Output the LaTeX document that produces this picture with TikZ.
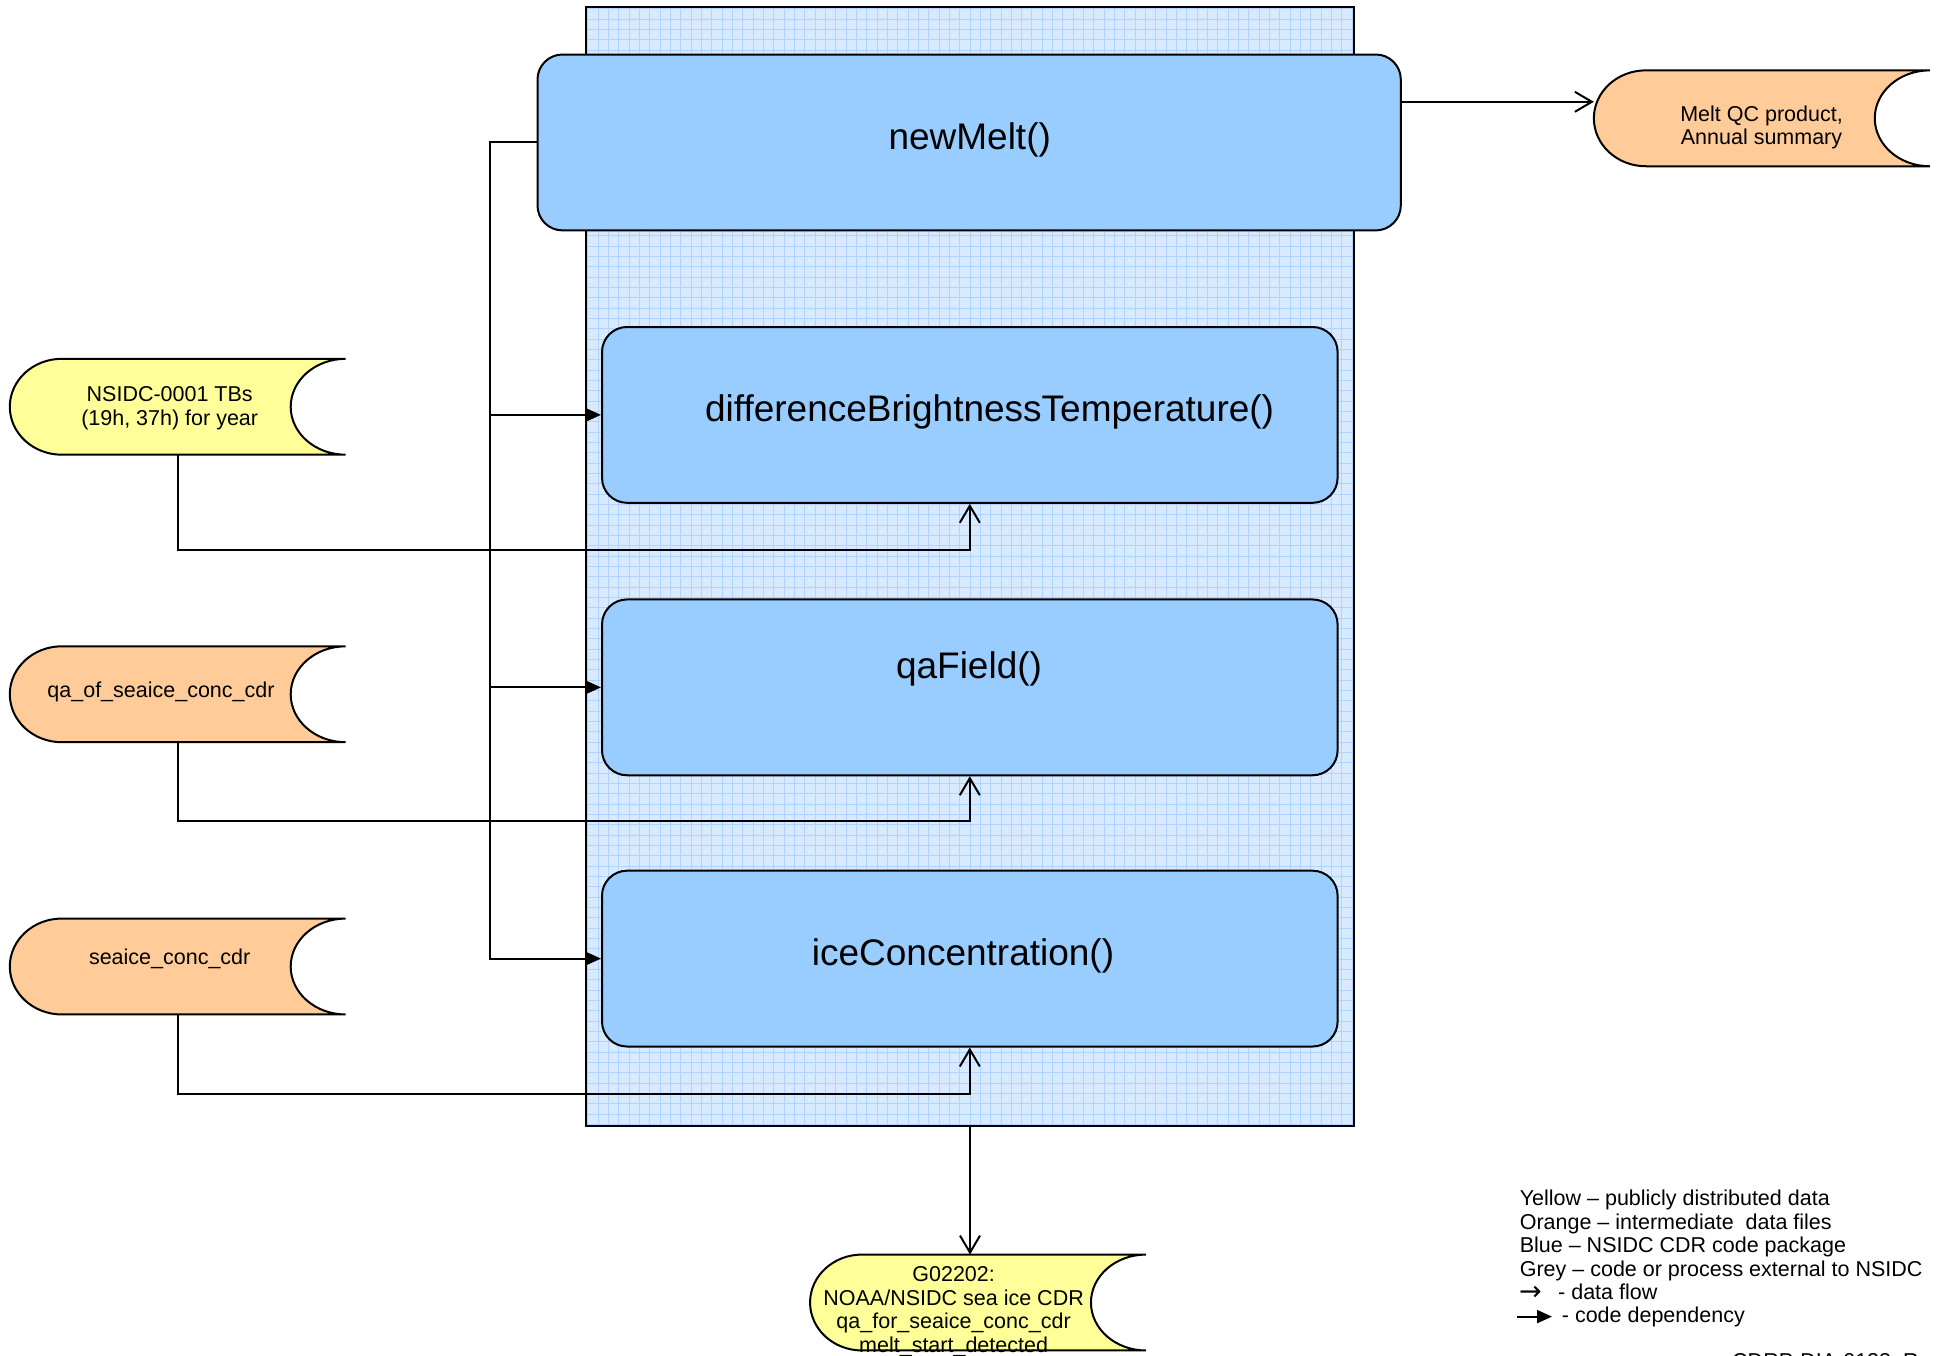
\documentclass[tikz,border=0pt]{standalone}
\usepackage{fontspec}
\setmainfont{Liberation Sans}
\newfontfamily\symfont{DejaVu Sans}
\usetikzlibrary{arrows.meta,calc}
\definecolor{procblue}{HTML}{99CCFF}
\definecolor{panelbg}{HTML}{D7EAFF}
\definecolor{panelgrid}{HTML}{B0D4FF}
\definecolor{datayellow}{HTML}{FFFF99}
\definecolor{dataorange}{HTML}{FFCC99}
\newcommand\storeddata[2]{%
  \path[draw=black, line width=2pt, fill=#2]
    let \p1=(#1.north west), \p2=(#1.south east), \p3=(#1.west), \n1={(\y1-\y2)/2} in
    (\x1+52pt,\y1) -- (\x2,\y1)
    .. controls (\x2-30.4pt,\y1) and (\x2-55pt,{\y3+0.5523*\n1}) .. (\x2-55pt,\y3)
    .. controls (\x2-55pt,{\y3-0.5523*\n1}) and (\x2-30.4pt,\y2) .. (\x2,\y2)
    -- (\x1+52pt,\y2)
    .. controls (\x1+23.3pt,\y2) and (\x1,{\y3-0.5523*\n1}) .. (\x1,\y3)
    .. controls (\x1,{\y3+0.5523*\n1}) and (\x1+23.3pt,\y1) .. (\x1+52pt,\y1)
    -- cycle;}
\tikzset{
  proc/.style={draw, rounded corners=25pt, fill=procblue, inner sep=0pt, line width=2pt},
  panel/.style={draw, line width=2.5pt, fill=panelbg, inner sep=0pt,
    path picture={\draw[panelgrid, line width=1pt, step=10.33pt]
      (path picture bounding box.south west) grid (path picture bounding box.north east);}},
  databox/.style={inner sep=0pt, minimum height=95.5pt, minimum width=335.5pt},
  bigtxt/.style={font=\fontsize{37}{44}\selectfont, inner sep=0pt},
  smalltxt/.style={font=\fontsize{21.5}{23.5}\selectfont, align=center, inner sep=0pt},
  legtxt/.style={font=\fontsize{21.5}{23.5}\selectfont, align=left, inner sep=0pt, anchor=base west},
  flow/.style={line width=2pt, -{Straight Barb[length=17pt,width=20pt]}},
  dep/.style={line width=2pt, -{Triangle[length=15pt,width=13pt]}},
}
\begin{document}
\begin{tikzpicture}[x=1pt, y=-1pt]
\useasboundingbox (0,0) rectangle (1942,1355);
\clip (0,0) rectangle (1942,1355);
\fill[white] (0,0) rectangle (1942,1355);

% panel
\node[panel, minimum width=768pt, minimum height=1119pt] (panel) at (970,566.5) {};

% process boxes
\node[proc, minimum width=863.3pt, minimum height=175.9pt] (newmelt) at (969.15,142.45) {};
\node[proc, minimum width=735.6pt, minimum height=175.8pt] (diffbt) at (969.8,414.9) {};
\node[proc, minimum width=735.6pt, minimum height=175.8pt] (qafield) at (969.8,687.35) {};
\node[proc, minimum width=735.6pt, minimum height=175.8pt] (icecon) at (969.8,958.6) {};

\node[bigtxt] (newmelt-t) at (969.7,139.7) {newMelt()};
\node[bigtxt] (diffbt-t) at (989.6,412.4) {differenceBrightnessTemperature()};
\node[bigtxt] (qafield-t) at (969,668.7) {qaField()};
\node[bigtxt] (icecon-t) at (963,956.1) {iceConcentration()};

% data stores
\node[databox] (nsidc) at (177.75,406.75) {};
\node[databox] (qaof) at (177.75,694.25) {};
\node[databox] (seaice) at (177.75,966.5) {};
\node[databox] (meltqc) at (1761.8,118.3) {};
\node[databox] (g02202) at (978,1302.5) {};
\storeddata{nsidc}{datayellow}
\storeddata{qaof}{dataorange}
\storeddata{seaice}{dataorange}
\storeddata{meltqc}{dataorange}
\storeddata{g02202}{datayellow}

\node[smalltxt] (nsidc-t) at (169.7,408) {NSIDC-0001 TBs\\(19h, 37h) for year};
\node[smalltxt] (qaof-t) at (161,691.6) {qa\_of\_seaice\_conc\_cdr};
\node[smalltxt] (seaice-t) at (169.7,959) {seaice\_conc\_cdr};
\node[smalltxt] (meltqc-t) at (1761.5,127.3) {Melt QC product,\\Annual summary};
\node[smalltxt] (g02202-t) at (953.6,1311.5) {G02202:\\NOAA/NSIDC sea ice CDR\\qa\_for\_seaice\_conc\_cdr\\melt\_start\_detected};

% code dependencies
\draw[dep] (newmelt.west) -- ++(-47,0) |- (diffbt.west);
\draw[dep] (newmelt.west) -- ++(-47,0) |- (qafield.west);
\draw[dep] (newmelt.west) -- ++(-47,0) |- (icecon.west);

% data flows
\draw[flow] (nsidc.south) -- ++(0,95.4) -| (diffbt.south);
\draw[flow] (qaof.south) -- ++(0,79.1) -| (qafield.south);
\draw[flow] (seaice.south) -- ++(0,79.1) -| (icecon.south);
\coordinate (nm-out) at ($(newmelt.north east)+(0,48.3)$);
\draw[flow] (nm-out) -- (nm-out -| meltqc.west);
\draw[flow] (panel.south) -- (panel.south |- g02202.north);

% legend
\node[legtxt] (leg1) at (1519.6,1276) {Yellow – publicly distributed data\\Orange – intermediate\ \ data files\\Blue – NSIDC CDR code package\\Grey – code or process external to NSIDC};
\node[legtxt] (leg5) at (1519,1299) {\makebox[39pt][l]{\raisebox{-1pt}{\symfont\fontsize{27}{27}\selectfont →}}- data flow};
\node[legtxt] (leg6) at (1561.7,1322.5) {- code dependency};
\coordinate (legarr-a) at (1517,1316.6);
\coordinate (legarr-b) at (1552,1316.6);
\draw[dep] (legarr-a) -- (legarr-b);
\node[legtxt] (docid) at (1732,1368) {CDRP-DIA-0123, Rev 1, (08/};
\end{tikzpicture}
\end{document}
